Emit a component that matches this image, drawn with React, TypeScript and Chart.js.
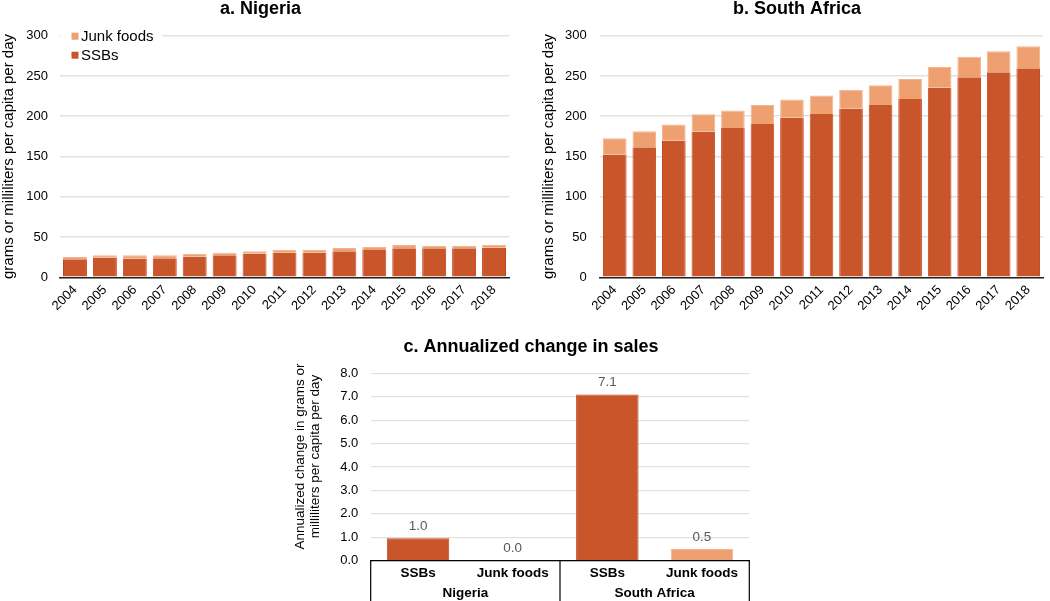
import React, { useEffect, useRef } from "react";
import { Chart, registerables } from "chart.js";

Chart.register(...registerables);

const years = ["2004", "2005", "2006", "2007", "2008", "2009", "2010", "2011", "2012", "2013", "2014", "2015", "2016", "2017", "2018"];
const nigeriaSSB = [22.3, 24.5, 23.3, 23.5, 25.6, 27.3, 29.7, 30.6, 30.6, 32.2, 33.8, 36.0, 36.0, 36.0, 36.7];
const nigeriaJunk = [3.0, 2.9, 4.0, 3.8, 3.3, 3.3, 2.5, 3.7, 3.5, 4.1, 3.8, 4.0, 2.8, 2.8, 3.7];
const saSSB = [152.5, 161.6, 169.9, 181.0, 185.5, 190.5, 198.4, 202.9, 209.5, 214.0, 221.5, 235.6, 248.3, 254.6, 259.5];
const saJunk = [20.2, 19.8, 19.8, 21.5, 21.6, 23.5, 22.3, 22.8, 23.5, 24.4, 24.8, 25.6, 25.7, 26.0, 27.3];

const changeCategories = ["SSBs", "Junk foods", "SSBs", "Junk foods"];
const changeGroups = ["Nigeria", "South Africa"];
const changeValues = [0.96, 0.0, 7.1, 0.5];
const changeKinds = ["ssb", "junk", "ssb", "junk"];

const seriesNames = ["SSBs", "Junk foods"];
const yTitle = "grams or milliliters per capita per day";
const cTitleLines = ["Annualized change in grams or", "milliliters per capita per day"];

const FONT = "'Liberation Sans', Arial, Helvetica, sans-serif";
const SSB_COLOR = "#C9552B";
const SSB_BORDER = "#C3451C";
const JUNK_COLOR = "#EEA070";
const JUNK_BORDER = "#F2B58F";
const GRID = "#E1E1E1";

function titlePlugin(text: string, cx: number, baseline: number) {
  return {
    id: "ttl" + text.length,
    afterDraw(chart: any) {
      const ctx = chart.ctx;
      ctx.save();
      ctx.font = `bold 18px ${FONT}`;
      ctx.fillStyle = "#000";
      ctx.textAlign = "center";
      ctx.textBaseline = "alphabetic";
      ctx.fillText(text, cx, baseline);
      ctx.restore();
    },
  };
}

const legendPlugin = {
  id: "customLegend",
  afterDraw(chart: any) {
    const ctx = chart.ctx;
    const a = chart.chartArea;
    const x0 = a.left;
    const y0 = a.top;
    ctx.save();
    ctx.fillStyle = "#fff";
    ctx.fillRect(x0 + 1, y0 - 8, 101, 36);
    const items = [
      { label: seriesNames[1], color: JUNK_COLOR, dy: 0.5 },
      { label: seriesNames[0], color: SSB_COLOR, dy: 19.5 },
    ];
    ctx.font = `15px ${FONT}`;
    ctx.textBaseline = "middle";
    ctx.textAlign = "left";
    for (const it of items) {
      ctx.fillStyle = it.color;
      ctx.fillRect(x0 + 11.5, y0 + it.dy - 3.5, 7, 7);
      ctx.fillStyle = "#000";
      ctx.fillText(it.label, x0 + 21, y0 + it.dy + 0.5);
    }
    ctx.restore();
  },
};

function stackedConfig(ssb: number[], junk: number[], opts: any): any {
  return {
    type: "bar",
    data: {
      labels: years,
      datasets: [
        {
          label: seriesNames[0],
          data: ssb,
          backgroundColor: SSB_COLOR,
          borderColor: SSB_BORDER,
          borderWidth: { left: 1, right: 1, top: 0, bottom: 0 },
          barPercentage: 0.8,
          categoryPercentage: 1.0,
        },
        {
          label: seriesNames[1],
          data: junk,
          backgroundColor: JUNK_COLOR,
          borderColor: JUNK_BORDER,
          borderWidth: { left: 1, right: 1, top: 1, bottom: 0 },
          barPercentage: 0.8,
          categoryPercentage: 1.0,
        },
      ],
    },
    options: {
      animation: false,
      responsive: false,
      layout: { padding: { left: 0, right: opts.padRight, top: 35.7, bottom: 0 } },
      plugins: { legend: { display: false }, tooltip: { enabled: false }, title: { display: false } },
      scales: {
        x: {
          stacked: true,
          grid: { display: false, drawTicks: false },
          border: { display: true, color: "#222", width: 1.6 },
          ticks: {
            autoSkip: false,
            minRotation: 45,
            maxRotation: 45,
            padding: 5,
            color: "#000",
            font: { family: FONT, size: 13 },
          },
          afterFit: (s: any) => {
            s.height = 42.7;
          },
        },
        y: {
          stacked: true,
          min: 0,
          max: 300,
          grid: { color: GRID, lineWidth: 1.5, drawTicks: false },
          border: { display: false },
          ticks: {
            stepSize: 50,
            padding: opts.tickPad,
            color: "#000",
            font: { family: FONT, size: 13 },
          },
          title: {
            display: true,
            text: yTitle,
            color: "#000",
            font: { family: FONT, size: 15 },
            padding: { top: opts.titlePad, bottom: 0 },
          },
          afterFit: (s: any) => {
            s.width = opts.yWidth;
          },
        },
      },
    },
    plugins: opts.plugins,
  };
}

const changePlugin = {
  id: "changeExtras",
  afterDraw(chart: any) {
    const ctx = chart.ctx;
    const a = chart.chartArea;
    const xs = chart.scales.x;
    const meta = chart.getDatasetMeta(0);
    ctx.save();
    // data labels
    ctx.font = `13.5px ${FONT}`;
    ctx.fillStyle = "#595959";
    ctx.textAlign = "center";
    ctx.textBaseline = "middle";
    meta.data.forEach((el: any, i: number) => {
      ctx.fillText(changeValues[i].toFixed(1), el.x, el.y - 12);
    });
    // category rows
    const n = changeCategories.length;
    const step = (xs.getPixelForValue(1) - xs.getPixelForValue(0));
    ctx.font = `bold 13.5px ${FONT}`;
    ctx.fillStyle = "#000";
    for (let i = 0; i < n; i++) {
      ctx.fillText(changeCategories[i], xs.getPixelForValue(i), a.bottom + 12.5);
    }
    for (let g = 0; g < changeGroups.length; g++) {
      const cx = (xs.getPixelForValue(g * 2) + xs.getPixelForValue(g * 2 + 1)) / 2;
      ctx.fillText(changeGroups[g], cx, a.bottom + 32.5);
    }
    // separators
    ctx.strokeStyle = "#000";
    ctx.lineWidth = 1.2;
    const bounds = [
      xs.getPixelForValue(0) - step / 2,
      xs.getPixelForValue(1) + step / 2,
      xs.getPixelForValue(3) + step / 2,
    ];
    for (const bx of bounds) {
      ctx.beginPath();
      ctx.moveTo(bx, a.bottom);
      ctx.lineTo(bx, chart.height);
      ctx.stroke();
    }
    // y title
    ctx.font = `13.5px ${FONT}`;
    ctx.fillStyle = "#000";
    const cy = 136.5;
    ctx.translate(0, cy);
    ctx.rotate(-Math.PI / 2);
    ctx.fillText(cTitleLines[0], 0, 20);
    ctx.fillText(cTitleLines[1], 0, 35);
    ctx.restore();
  },
};

function changeConfig(): any {
  return {
    type: "bar",
    data: {
      labels: changeCategories,
      datasets: [
        {
          data: changeValues,
          backgroundColor: changeKinds.map((k) => (k === "ssb" ? SSB_COLOR : JUNK_COLOR)),
          borderColor: changeKinds.map((k) => (k === "ssb" ? SSB_BORDER : JUNK_BORDER)),
          borderWidth: 1,
          borderSkipped: "bottom",
          barPercentage: 0.66,
          categoryPercentage: 1.0,
        },
      ],
    },
    options: {
      animation: false,
      responsive: false,
      layout: { padding: { left: 0, right: 10.7, top: 53.3, bottom: 0 } },
      plugins: { legend: { display: false }, tooltip: { enabled: false }, title: { display: false } },
      scales: {
        x: {
          grid: { display: false, drawTicks: false },
          border: { display: true, color: "#000", width: 1.2 },
          ticks: { display: false },
          afterFit: (s: any) => {
            s.height = 40.3;
          },
        },
        y: {
          min: 0,
          max: 8,
          grid: { color: GRID, lineWidth: 1.2, drawTicks: false },
          border: { display: false },
          ticks: {
            stepSize: 1,
            padding: 12.4,
            color: "#000",
            font: { family: FONT, size: 13 },
            callback: (v: any) => Number(v).toFixed(1),
          },
          afterFit: (s: any) => {
            s.width = 90.7;
          },
        },
      },
    },
    plugins: [titlePlugin("c. Annualized change in sales", 251, 31.7), changePlugin],
  };
}

function ChartCanvas(props: { make: () => any; left: number; top: number; width: number; height: number }) {
  const ref = useRef<HTMLCanvasElement | null>(null);
  useEffect(() => {
    if (!ref.current) return;
    const c = new Chart(ref.current, props.make());
    return () => c.destroy();
  }, []);
  return (
    <canvas
      ref={ref}
      width={props.width}
      height={props.height}
      style={{ position: "absolute", left: props.left, top: props.top, width: props.width, height: props.height }}
    />
  );
}

export default function App() {
  return (
    <div style={{ position: "absolute", left: 0, top: 0, width: 1050, height: 601, background: "#fff", overflow: "hidden" }}>
      <ChartCanvas
        left={0}
        top={0}
        width={520}
        height={320}
        make={() =>
          stackedConfig(nigeriaSSB, nigeriaJunk, {
            padRight: 11,
            tickPad: 12,
            titlePad: 0,
            yWidth: 60,
            plugins: [titlePlugin("a. Nigeria", 260.5, 13.5), legendPlugin],
          })
        }
      />
      <ChartCanvas
        left={530}
        top={0}
        width={520}
        height={320}
        make={() =>
          stackedConfig(saSSB, saJunk, {
            padRight: 7,
            tickPad: 13.3,
            titlePad: 10,
            yWidth: 70,
            plugins: [titlePlugin("b. South Africa", 267, 13.5)],
          })
        }
      />
      <ChartCanvas left={280} top={320} width={480} height={281} make={changeConfig} />
    </div>
  );
}
